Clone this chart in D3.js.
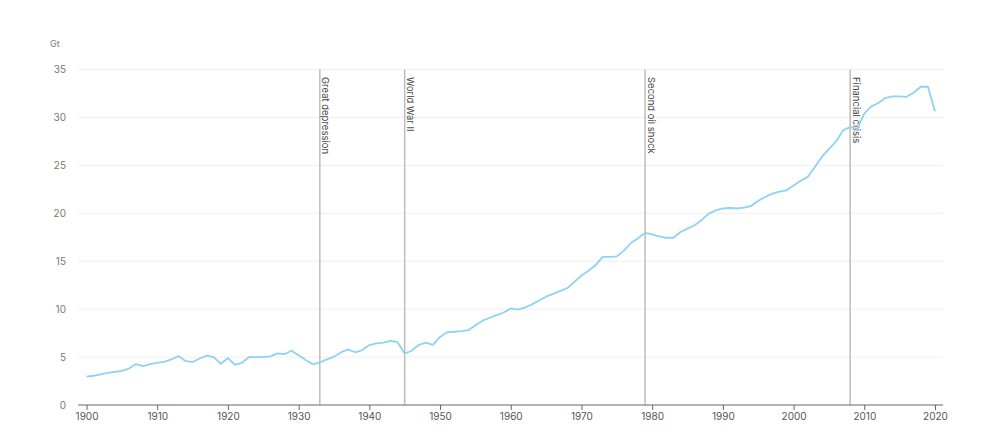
<!DOCTYPE html>
<html>
<head>
<meta charset="utf-8">
<script src="https://cdn.jsdelivr.net/npm/d3@7"></script>
<style>
  html, body { margin: 0; padding: 0; background: #fff; }
  svg { display: block; font-family: Inter, "Open Sans", sans-serif; }
</style>
</head>
<body>
<svg id="chart" width="1000" height="441"></svg>
<script>
const years = d3.range(1900, 2021);
const emissions = [
  2.95, 3.05, 3.2, 3.35, 3.45, 3.55, 3.8, 4.27, 4.06, 4.27,
  4.4, 4.5, 4.75, 5.1, 4.6, 4.48, 4.85, 5.14, 5.0, 4.3,
  4.9, 4.2, 4.4, 5.0, 5.0, 5.0, 5.07, 5.38, 5.3, 5.66,
  5.2, 4.7, 4.24, 4.45, 4.76, 5.03, 5.5, 5.8, 5.5, 5.73,
  6.25, 6.42, 6.5, 6.7, 6.55, 5.38, 5.66, 6.28, 6.5, 6.28,
  7.1, 7.6, 7.64, 7.7, 7.8, 8.33, 8.8, 9.1, 9.37, 9.65,
  10.07, 9.96, 10.17, 10.5, 10.9, 11.3, 11.6, 11.9, 12.2, 12.85,
  13.5, 14.0, 14.6, 15.45, 15.45, 15.5, 16.1, 16.9, 17.4, 17.95,
  17.8, 17.6, 17.43, 17.45, 18.05, 18.4, 18.75, 19.3, 19.97, 20.3,
  20.5, 20.55, 20.5, 20.6, 20.76, 21.3, 21.7, 22.05, 22.25, 22.4,
  22.9, 23.4, 23.8, 24.8, 25.9, 26.7, 27.5, 28.65, 29.0, 28.8,
  30.4, 31.15, 31.5, 32.05, 32.2, 32.2, 32.15, 32.6, 33.2, 33.2,
  30.65
];
const yTicks = [0, 5, 10, 15, 20, 25, 30, 35];
const xTicks = [1900, 1910, 1920, 1930, 1940, 1950, 1960, 1970, 1980, 1990, 2000, 2010, 2020];
const eventYears = [1933, 1945, 1979, 2008];
const eventLabels = ["Great depression", "World War II", "Second oil shock", "Financial crisis"];
const unitLabel = "Gt";

const svg = d3.select("#chart");
const x = d3.scaleLinear().domain([1900, 2020]).range([86.5, 935]);
const y = d3.scaleLinear().domain([0, 35]).range([405, 69.5]);
const xLeft = 78, xRight = 943;

// gridlines
svg.append("g").selectAll("line").data(yTicks.filter(d => d > 0)).join("line")
  .attr("x1", xLeft).attr("x2", xRight)
  .attr("y1", d => y(d)).attr("y2", d => y(d))
  .attr("stroke", "#efefef").attr("stroke-width", 1);

// y labels
svg.append("g").selectAll("text").data(yTicks).join("text")
  .attr("x", 66).attr("y", d => y(d)).attr("dy", "0.35em")
  .attr("text-anchor", "end").attr("font-size", 10).attr("fill", "#777")
  .text(d => d);

svg.append("text").attr("x", 50).attr("y", 47)
  .attr("font-size", 9).attr("fill", "#777").text(unitLabel);

// event lines
const ev = svg.append("g");
ev.selectAll("line").data(eventYears).join("line")
  .attr("x1", d => x(d)).attr("x2", d => x(d))
  .attr("y1", 69.5).attr("y2", 405)
  .attr("stroke", "#bdbdbd").attr("stroke-width", 1.5);
ev.selectAll("text").data(eventYears).join("text")
  .attr("transform", d => `translate(${x(d) + 2.5},77) rotate(90)`)
  .attr("font-size", 9.5).attr("fill", "#444")
  .text((d, i) => eventLabels[i]);

// data line
const line = d3.line().x((d, i) => x(years[i])).y(d => y(d));
svg.append("path").datum(emissions)
  .attr("d", line).attr("fill", "none")
  .attr("stroke", "#8dd3f3").attr("stroke-width", 1.8)
  .attr("stroke-linejoin", "round");

// x axis
const xa = svg.append("g").attr("transform", "translate(0,405)");
xa.append("line").attr("x1", xLeft).attr("x2", xRight)
  .attr("stroke", "#666").attr("stroke-width", 1.2);
const axis = d3.axisBottom(x).tickValues(xTicks).tickFormat(d3.format("d")).tickSize(5).tickPadding(3);
const g = xa.append("g").call(axis);
g.select(".domain").remove();
g.selectAll(".tick line").attr("stroke", "#666");
g.selectAll(".tick text").attr("font-size", 10).attr("fill", "#555")
  .attr("font-family", "Inter, 'Open Sans', sans-serif");
</script>
</body>
</html>
